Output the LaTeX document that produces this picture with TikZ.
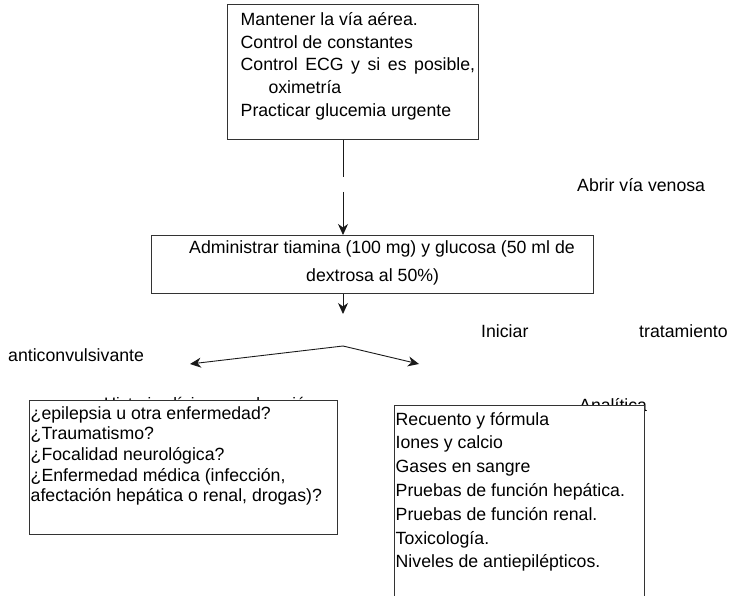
\documentclass[tikz,border=0pt]{standalone}
\usepackage{fontspec}
\setmainfont{Liberation Sans}
\usetikzlibrary{arrows.meta}
\begin{document}
\begin{tikzpicture}[x=1pt,y=-1pt,
  box/.style={draw=black!80, line width=0.9pt, fill=white, inner sep=0pt, anchor=north west},
  txt/.style={inner sep=0pt, anchor=base west, font=\fontsize{17.7}{21}\selectfont},
  link/.style={draw=black!90, line width=0.9pt},
  arr/.style={link, -{Stealth[length=11pt,width=10pt,inset=3.5pt]}}]
\useasboundingbox (0,0) rectangle (739,596);
\clip (0,0) rectangle (739,596);

% first step
\node[box, minimum width=251pt, minimum height=135pt] (topbox) at (227,4) {};
\foreach \yy/\tt [count=\i] in {26/{Mantener la vía aérea.},
    48.5/{Control de constantes},
    70.8/{\makebox[234.5pt][s]{Control ECG y si es posible,}},
    93.3/{\hspace*{27.8pt}oximetría},
    116.8/{Practicar glucemia urgente}}
  \node[txt] (top\i) at (240.5,\yy) {\tt};

% venous access label
\node[txt] (venosa) at (577,191.5) {Abrir vía venosa};

% thiamine and glucose
\node[box, minimum width=442pt, minimum height=58pt] (midbox) at (151,235) {};
\node[txt] (mid1) at (189,254) {Administrar tiamina (100 mg) y glucosa (50 ml de};
\node[txt] (mid2) at (306,281) {dextrosa al 50\%)};

% connectors between the first two steps
\coordinate (gapA) at (343,177);
\coordinate (gapB) at (343,192);
\draw[link] (topbox.south -| gapA) -- (gapA);
\draw[arr] (gapB) -- (midbox.north -| gapB);
\coordinate (midout) at (343,314);
\draw[arr] (midbox.south -| midout) -- (midout);

% anticonvulsant treatment
\node[txt] (ini1) at (481,337) {Iniciar};
\node[txt] (ini2) at (639,337) {tratamiento};
\node[txt] (ini3) at (8,361) {anticonvulsivante};

% branching arrows
\coordinate (apex) at (343,346);
\coordinate (leftend) at (190,364);
\coordinate (rightend) at (419,364);
\draw[arr] (apex) -- (leftend);
\draw[arr] (apex) -- (rightend);

% headings partly covered by the boxes
\node[txt, font=\fontsize{16.6}{20}\selectfont] (histo) at (104,409) {Historia clínica y exploración};
\node[txt] (anali) at (579,411) {Analítica};

% clinical history box
\node[box, minimum width=308pt, minimum height=134pt] (leftbox) at (29,400) {};
\foreach \yy/\tt [count=\i] in {419.3/{¿epilepsia u otra enfermedad?},
    439.9/{¿Traumatismo?},
    460.5/{¿Focalidad neurológica?},
    481.1/{¿Enfermedad médica (infección,},
    501.7/{afectación hepática o renal, drogas)?}}
  \node[txt] (hist\i) at (30.5,\yy) {\tt};

% laboratory box
\node[box, minimum width=250pt, minimum height=215pt] (rightbox) at (394,405) {};
\foreach \yy/\tt [count=\i] in {425/{Recuento y fórmula},
    448.8/{Iones y calcio},
    472.6/{Gases en sangre},
    496.4/{Pruebas de función hepática.},
    520.2/{Pruebas de función renal.},
    544/{Toxicología.},
    567.8/{Niveles de antiepilépticos.}}
  \node[txt] (lab\i) at (395.5,\yy) {\tt};
\end{tikzpicture}
\end{document}
